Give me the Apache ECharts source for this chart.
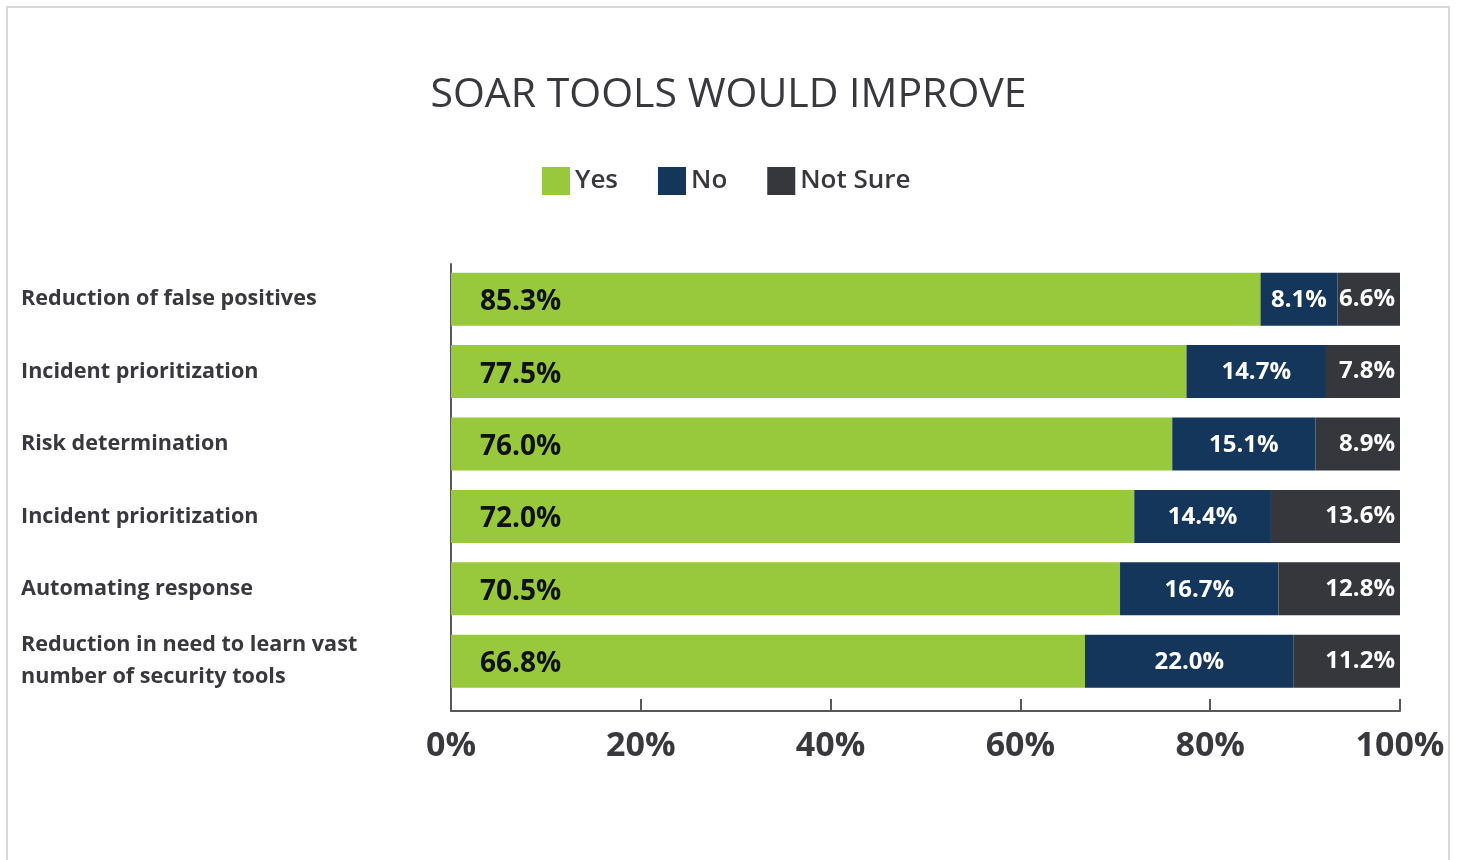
<!DOCTYPE html>
<html>
<head>
<meta charset="utf-8">
<title>SOAR Tools Would Improve</title>
<script src="https://cdn.jsdelivr.net/npm/echarts@6/dist/echarts.min.js"></script>
<style>
  html, body { margin: 0; padding: 0; background: #ffffff; }
  #chart { width: 1457px; height: 860px; }
</style>
</head>
<body>
<div id="chart"></div>
<script>
// Survey categories, top to bottom
const categories = [
  'Reduction of false positives',
  'Incident prioritization',
  'Risk determination',
  'Incident prioritization',
  'Automating response',
  'Reduction in need to learn vast\nnumber of security tools'
];

// Share of respondents (%) per answer
const yesValues     = [85.3, 77.5, 76.0, 72.0, 70.5, 66.8];
const noValues      = [8.1, 14.7, 15.1, 14.4, 16.7, 22.0];
const notSureValues = [6.6, 7.8, 8.9, 13.6, 12.8, 11.2];

const seriesNames = ['Yes', 'No', 'Not Sure'];
const seriesColors = ['#98c93d', '#13365a', '#36373c'];

const FONT = '"Open Sans", Lato, sans-serif';
const AXIS_COLOR = '#58585a';
const TEXT_COLOR = '#38383d';

const pct = p => p.value.toFixed(1) + '%';

const chart = echarts.init(document.getElementById('chart'), null, { renderer: 'canvas' });

chart.setOption({
  backgroundColor: '#ffffff',
  animation: false,
  textStyle: { fontFamily: FONT },
  graphic: [{
    type: 'rect',
    shape: { x: 7, y: 7, width: 1442, height: 900 },
    style: { fill: 'none', stroke: '#d9d9d9', lineWidth: 2 },
    silent: true,
    z: -10
  }],
  title: {
    text: 'SOAR TOOLS WOULD IMPROVE',
    left: 'center',
    top: 75,
    padding: 0,
    textStyle: { fontFamily: FONT, fontSize: 41, fontWeight: 'normal', color: TEXT_COLOR }
  },
  legend: {
    data: seriesNames,
    left: 542,
    top: 167,
    padding: 0,
    itemWidth: 28,
    itemHeight: 28,
    itemGap: 40,
    icon: 'rect',
    textStyle: { fontFamily: FONT, fontSize: 26, fontWeight: 600, color: TEXT_COLOR }
  },
  grid: [
    // bars
    { left: 451, right: 57, top: 263, height: 434.4, containLabel: false },
    // axis frame
    { left: 451, right: 57, top: 264, bottom: 149, containLabel: false }
  ],
  xAxis: [
    { gridIndex: 0, type: 'value', min: 0, max: 100, show: false },
    {
      gridIndex: 1, type: 'value', min: 0, max: 100, interval: 20,
      axisLine: { show: true, lineStyle: { color: AXIS_COLOR, width: 2 } },
      axisTick: { show: true, inside: true, length: 12, lineStyle: { color: AXIS_COLOR, width: 2 } },
      splitLine: { show: false },
      axisLabel: {
        formatter: '{value}%',
        margin: 18,
        fontFamily: FONT, fontSize: 34, fontWeight: 'bold', color: TEXT_COLOR
      }
    }
  ],
  yAxis: [
    {
      gridIndex: 0, type: 'category', data: categories, inverse: true,
      axisLine: { show: false }, axisTick: { show: false }, splitLine: { show: false },
      axisLabel: {
        align: 'left',
        margin: 430,
        lineHeight: 32,
        fontFamily: FONT, fontSize: 21.6, fontWeight: 'bold', color: TEXT_COLOR
      }
    },
    {
      gridIndex: 1, type: 'value', min: 0, max: 1,
      axisLine: { show: true, lineStyle: { color: AXIS_COLOR, width: 2 } },
      axisTick: { show: false }, axisLabel: { show: false }, splitLine: { show: false }
    }
  ],
  series: [
    {
      name: 'Yes', type: 'bar', stack: 'total', xAxisIndex: 0, yAxisIndex: 0,
      data: yesValues, barCategoryGap: '26.8%',
      itemStyle: { color: seriesColors[0] },
      label: {
        show: true, position: 'insideLeft', distance: 29, formatter: pct,
        offset: [0, 3],
        fontFamily: FONT, fontSize: 28, fontWeight: 'bold', color: '#111111'
      }
    },
    {
      name: 'No', type: 'bar', stack: 'total', xAxisIndex: 0, yAxisIndex: 0,
      data: noValues,
      itemStyle: { color: seriesColors[1] },
      label: {
        show: true, position: 'inside', formatter: pct,
        offset: [0, 1],
        fontFamily: FONT, fontSize: 24, fontWeight: 'bold', color: '#ffffff'
      }
    },
    {
      name: 'Not Sure', type: 'bar', stack: 'total', xAxisIndex: 0, yAxisIndex: 0,
      data: notSureValues,
      itemStyle: { color: seriesColors[2] },
      label: {
        show: true, position: 'insideRight', distance: 5, formatter: pct,
        fontFamily: FONT, fontSize: 24, fontWeight: 'bold', color: '#ffffff'
      }
    }
  ]
});
</script>
</body>
</html>
